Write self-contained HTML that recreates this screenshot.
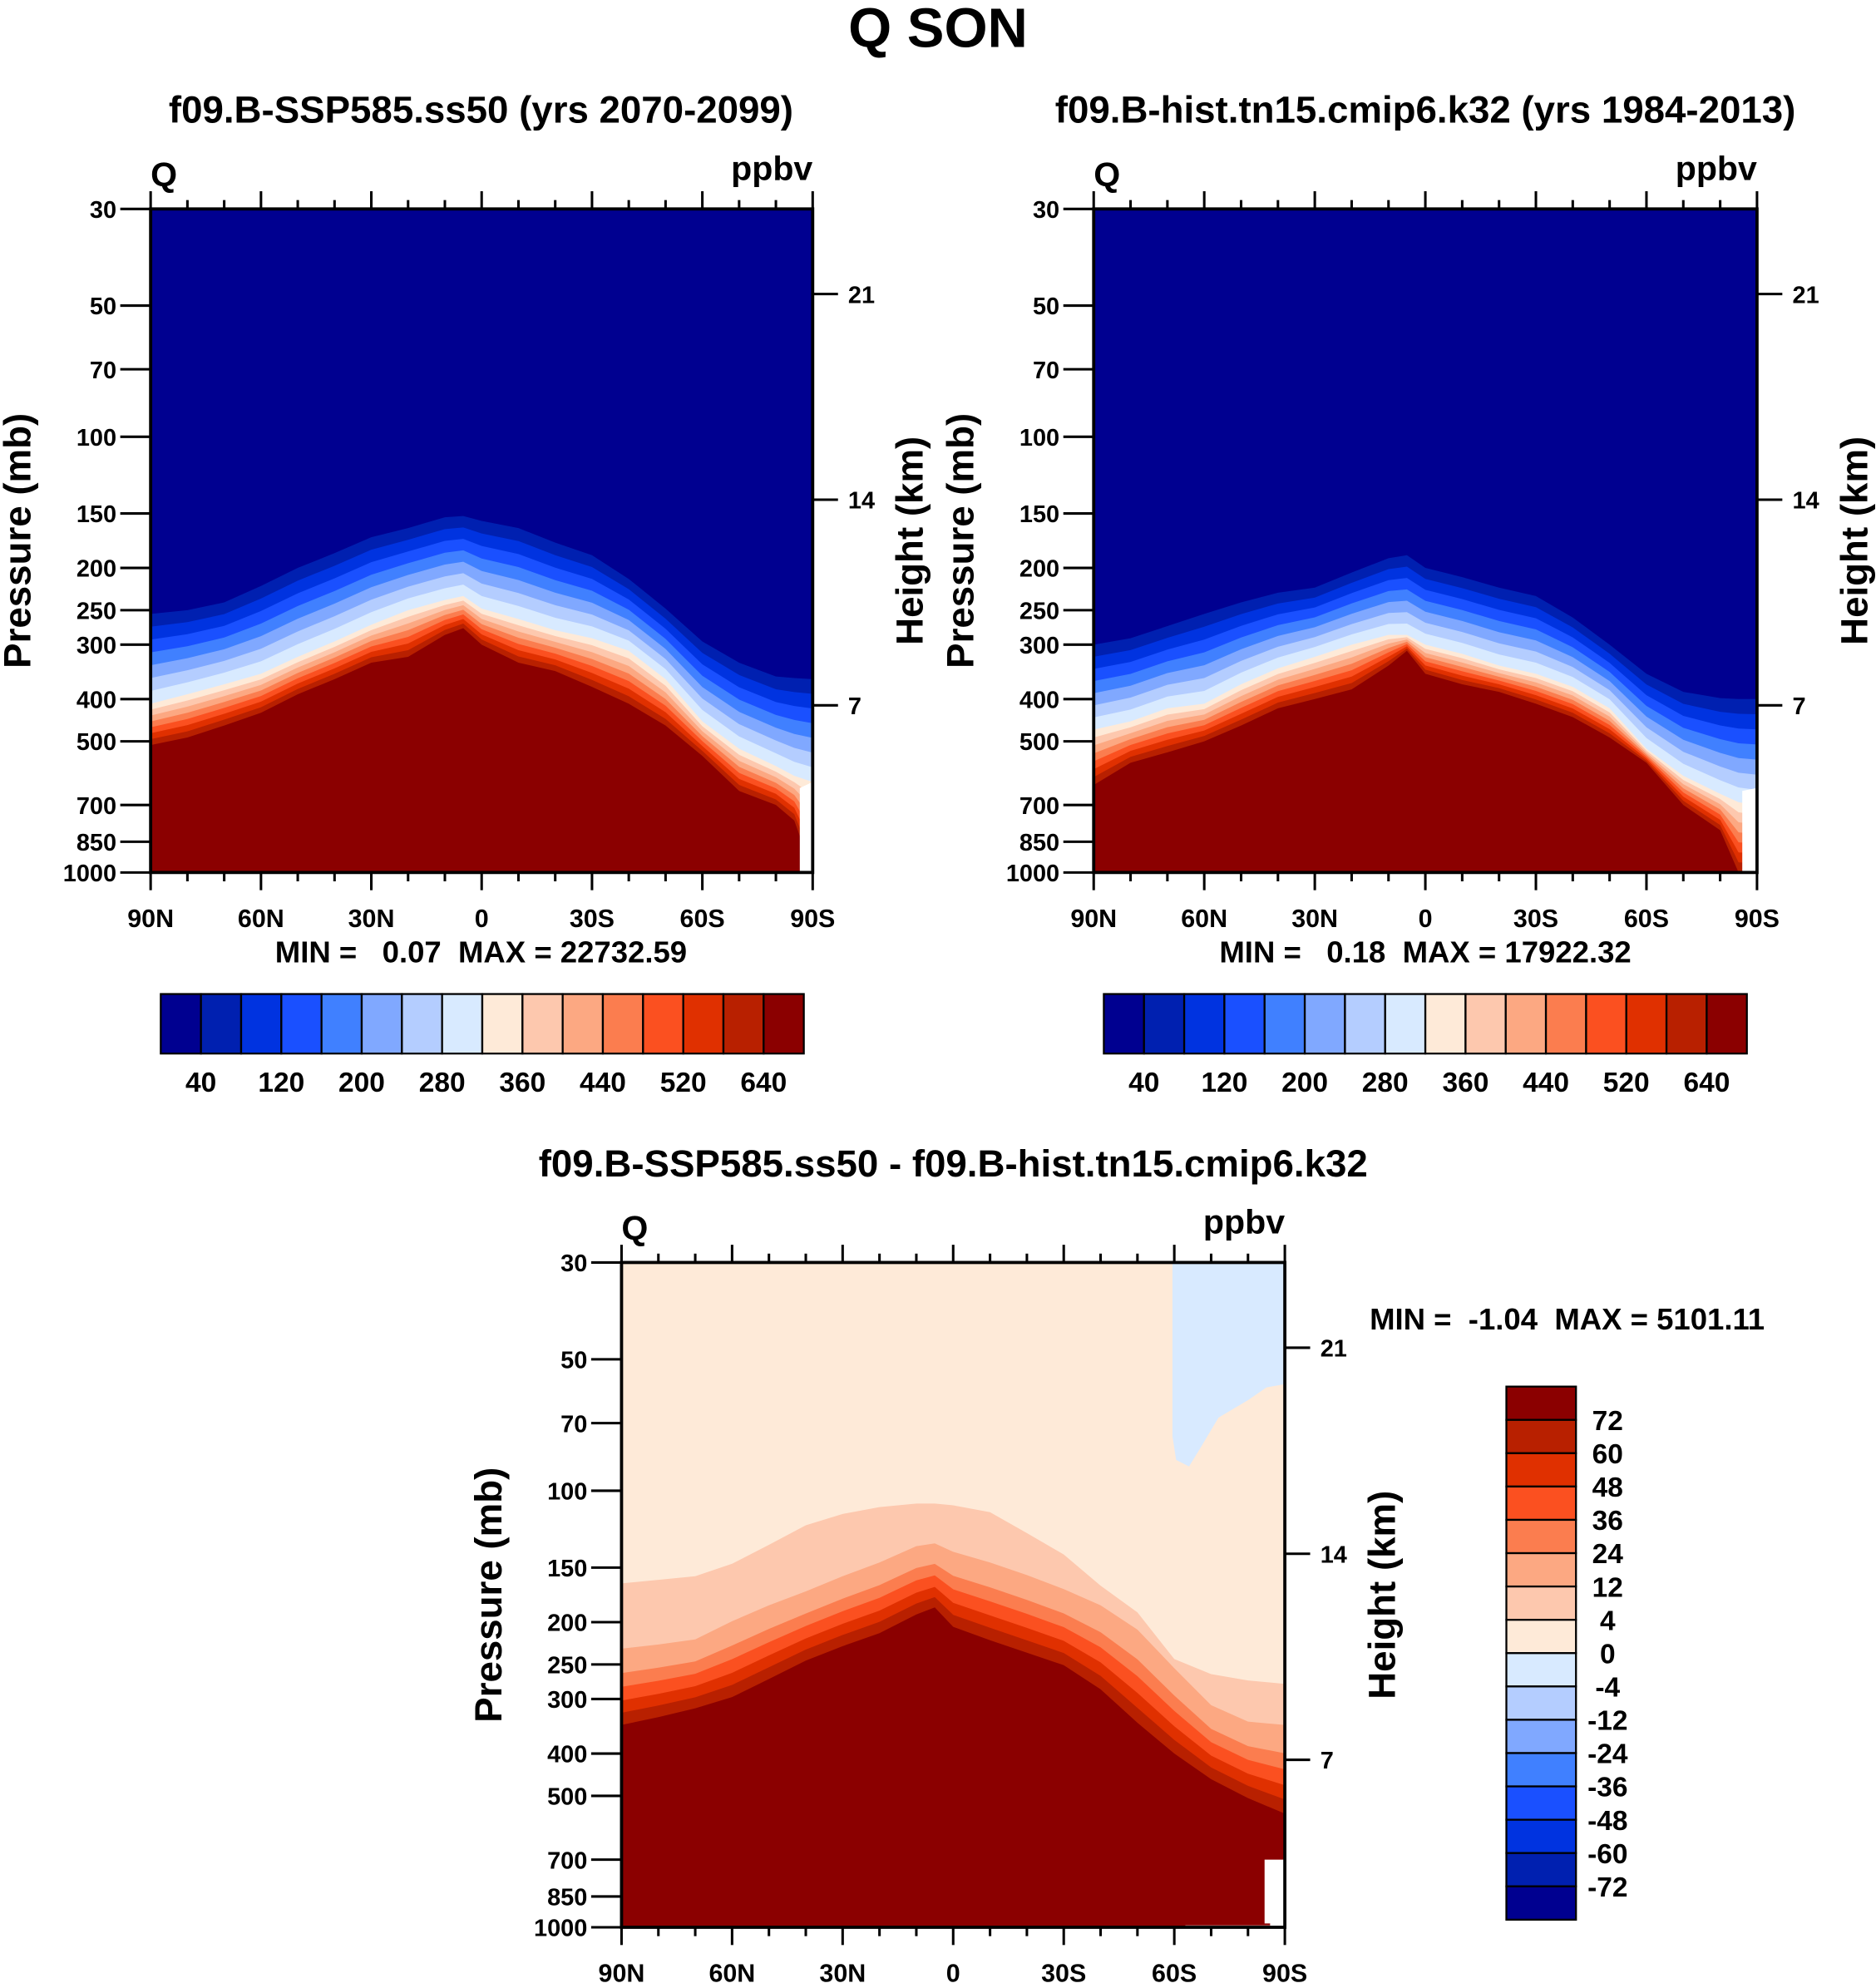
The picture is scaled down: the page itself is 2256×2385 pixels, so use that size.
<!DOCTYPE html>
<html><head><meta charset="utf-8"><style>
html,body{margin:0;padding:0;background:#fff;}
svg{display:block;font-family:"Liberation Sans",Arial,sans-serif;font-weight:bold;}
text{white-space:pre;}
</style></head><body>
<svg id="fig" xmlns="http://www.w3.org/2000/svg" width="2256" height="2385" viewBox="0 0 1482 1566" preserveAspectRatio="none">
<text x="741" y="37" font-size="44" text-anchor="middle">Q SON</text>
</svg>
<script>
// ---------- data ----------
const colors = ["#000090","#0020b0","#0033e0","#1a50ff","#4080ff","#80a8ff","#b4cdff","#d8eaff","#feead8","#fdc8ae","#fca882","#fb7d4f","#fb5020","#e03000","#b82000","#8b0000"];
const lats = [90,80,70,60,50,40,30,20,10,5,0,-10,-20,-30,-40,-50,-60,-70,-80,-85,-90];
const p1Blue  = [255,250,240,220,200,185,170,162,153,152,156,162,175,187,212,248,295,330,355,358,360];
const p1White = [410,390,370,350,320,295,270,250,237,232,248,262,278,290,310,360,450,520,570,600,620];
const p1Core  = [510,490,460,430,390,360,330,320,285,275,300,330,345,375,410,460,540,650,700,760,1000];
const p2Blue  = [300,290,272,255,240,228,222,205,190,187,200,210,222,232,260,300,350,385,398,400,400];
const p2White = [470,450,420,410,370,340,320,300,285,285,300,315,335,350,375,420,520,600,660,690,700];
const p2Core  = [630,560,530,500,460,420,400,380,335,310,350,370,385,410,440,490,560,700,800,1000,1000];
const lats3 = [90,80,70,60,50,40,30,20,10,5,0,-10,-20,-30,-40,-50,-60,-70,-80,-90];
const p3b4   = [163,160,157,147,133,120,113,109,107,107,108,112,125,140,165,190,243,263,272,277];
const p3b12  = [230,225,219,199,183,170,157,146,134,132,138,146,156,168,183,208,255,310,338,344];
const p3Core = [344,330,315,297,270,245,227,212,192,185,205,220,235,251,285,340,400,458,506,549];
const negLat = [-59.5,-59.5,-60.5,-64,-67,-72,-80,-85,-90,-90];
const negP   = [30,75,85,88,80,68,62,58,57,30];
const pTicks = [30,50,70,100,150,200,250,300,400,500,700,850,1000];
const kmTicks = [7,14,21];
const latTicks = [90,60,30,0,-30,-60,-90];
const latLabels = ["90N","60N","30N","0","30S","60S","90S"];
const cbLabels1 = ["40","120","200","280","360","440","520","640"];
const cbLabels3 = ["72","60","48","36","24","12","4","0","-4","-12","-24","-36","-48","-60","-72"];

const NS="http://www.w3.org/2000/svg";
const svg=document.getElementById('fig');
function mk(tag,attrs,parent){const e=document.createElementNS(NS,tag);for(const k in attrs)e.setAttribute(k,attrs[k]);(parent||svg).appendChild(e);return e;}
function txt(s,x,y,size,anchor,name,parent,rot){
  const t=mk('text',{x:x,y:y,'font-size':size,'text-anchor':anchor||'middle'},parent);
  if(rot)t.setAttribute('transform','rotate(-90 '+x+' '+y+')');
  t.textContent=s;
  
  
  return t;
}

function panel(id,x0,y0,w,h,latArr,bands,extras){
  const g=mk('g',{});
  
  
  const xs=lat=>x0+(90-lat)/180*w;
  const yp=p=>y0+Math.log(p/30)/Math.log(1000/30)*h;
  const cp=mk('clipPath',{id:id+'clip'},g);
  mk('rect',{x:x0,y:y0,width:w,height:h},cp);
  const pg=mk('g',{'clip-path':'url(#'+id+'clip)'},g);
  const bg=mk('rect',{x:x0,y:y0,width:w,height:h,fill:bands.base},pg);
  
  
  bands.list.forEach((b,i)=>{
    let pts=latArr.map((la,j)=>xs(la)+','+b.y(j,yp)).join(' ');
    pts+=' '+xs(latArr[latArr.length-1])+','+(y0+h+2)+' '+xs(latArr[0])+','+(y0+h+2);
    const poly=mk('polygon',{points:pts,fill:b.color},pg);
    
    
  });
  if(extras)extras(pg,xs,yp);
  const fr=mk('rect',{x:x0,y:y0,width:w,height:h,fill:'none',stroke:'#000','stroke-width':2.5},g);
  
  
  for(let la=90;la>=-90;la-=10){
    const maj=la%30===0, L=maj?14:7;
    mk('line',{x1:xs(la),x2:xs(la),y1:y0+h,y2:y0+h+L,stroke:'#000','stroke-width':2},g);
    mk('line',{x1:xs(la),x2:xs(la),y1:y0,y2:y0-L,stroke:'#000','stroke-width':2},g);
  }
  latTicks.forEach((la,i)=>txt(latLabels[i],xs(la),y0+h+43,20,'middle','x-tick-label',g));
  pTicks.forEach(p=>{
    mk('line',{x1:x0-24,x2:x0,y1:yp(p),y2:yp(p),stroke:'#000','stroke-width':2},g);
    txt(String(p),x0-27,yp(p)+7,19,'end','y-tick-label',g);
  });
  kmTicks.forEach(k=>{
    const y=y0+h*(557-165)/524-(k-7)*h*23.2/524;
    mk('line',{x1:x0+w,x2:x0+w+20,y1:y,y2:y,stroke:'#000','stroke-width':2},g);
    txt(String(k),x0+w+28,y+7,19,'start','right-tick-label',g);
  });
  txt('Q',x0,y0-18,27,'start','variable-label',g);
  txt('ppbv',x0+w,y0-23,27,'end','units-label',g);
  txt('Pressure (mb)',x0-95,y0+h/2,30,'middle','y-axis-title',g,true);
  txt('Height (km)',x0+w+87,y0+h/2,30,'middle','right-axis-title',g,true);
  return {xs,yp};
}

function keyBands(blue,white,core){
  const list=[];
  for(let k=1;k<=15;k++){
    let f;
    if(k<=8) f=(j,yp)=>{const a=yp(blue[j]),b=yp(white[j]);return a+(b-a)*(k-1)/7;};
    else f=(j,yp)=>{const a=yp(white[j]),b=yp(core[j]);return a+(b-a)*(k-8)/7;};
    list.push({color:colors[k],y:f});
  }
  return {base:colors[0],list};
}

txt('f09.B-SSP585.ss50 (yrs 2070-2099)',380,97,30,'middle','panel1-title');
panel('p1',119,165,523,524,lats,keyBands(p1Blue,p1White,p1Core),(g,xs,yp)=>{
  const m=mk('polygon',{points:[xs(-86.5)+','+yp(640),xs(-90)+','+yp(620),xs(-90)+','+yp(1000),xs(-86.5)+','+yp(1000)].join(' '),fill:'#fff'},g);
  
  
});
txt('MIN =   0.07  MAX = 22732.59',380,760,24,'middle','panel1-minmax');

txt('f09.B-hist.tn15.cmip6.k32 (yrs 1984-2013)',1126,97,30,'middle','panel2-title');
panel('p2',864,165,524,524,lats,keyBands(p2Blue,p2White,p2Core),(g,xs,yp)=>{
  const m=mk('polygon',{points:[xs(-86)+','+yp(650),xs(-90)+','+yp(640),xs(-90)+','+yp(1000),xs(-86)+','+yp(1000)].join(' '),fill:'#fff'},g);
  
  
});
txt('MIN =   0.18  MAX = 17922.32',1126,760,24,'middle','panel2-minmax');

function hbar(x0,y0,w,h,name){
  const g=mk('g',{});
  
  
  const bw=w/16;
  colors.forEach((c,i)=>{
    const r=mk('rect',{x:x0+i*bw,y:y0,width:bw,height:h,fill:c,stroke:'#000','stroke-width':1.5},g);
    
    
  });
  cbLabels1.forEach((s,i)=>txt(s,x0+(2*i+1)*bw,y0+h+30,22,'middle','colorbar-label',g));
}
hbar(127,785,508,47,'colorbar-1');
hbar(872,785,508,47,'colorbar-2');

txt('f09.B-SSP585.ss50 - f09.B-hist.tn15.cmip6.k32',753,929,30,'middle','panel3-title');
const diffBands={base:colors[8],list:[
  {color:colors[9],y:(j,yp)=>yp(p3b4[j])},
  {color:colors[10],y:(j,yp)=>yp(p3b12[j])},
  {color:colors[11],y:(j,yp)=>{const a=yp(p3b12[j]),b=yp(p3Core[j]);return a+(b-a)*0.32;}},
  {color:colors[12],y:(j,yp)=>{const a=yp(p3b12[j]),b=yp(p3Core[j]);return a+(b-a)*0.5;}},
  {color:colors[13],y:(j,yp)=>{const a=yp(p3b12[j]),b=yp(p3Core[j]);return a+(b-a)*0.68;}},
  {color:colors[14],y:(j,yp)=>{const a=yp(p3b12[j]),b=yp(p3Core[j]);return a+(b-a)*0.84;}},
  {color:colors[15],y:(j,yp)=>yp(p3Core[j])}
]};
panel('p3',491,997,524,525,lats3,diffBands,(g,xs,yp)=>{
  const neg=mk('polygon',{points:negLat.map((la,i)=>xs(la)+','+yp(negP[i])).join(' '),fill:colors[7]},g);
  
  
  const m=mk('polygon',{points:[[-84.5,700],[-90,700],[-90,1000],[-63,1000],[-63,990],[-86,990],[-86,980],[-84.5,980]].map(a=>xs(a[0])+','+yp(a[1])).join(' '),fill:'#fff'},g);
  
  
});
txt('MIN =  -1.04  MAX = 5101.11',1082,1050,24,'start','panel3-minmax');

(function(){
  const g=mk('g',{});
  
  
  const x0=1190,y0=1095,w=55,h=421,bh=h/16;
  for(let i=0;i<16;i++){
    const r=mk('rect',{x:x0,y:y0+i*bh,width:w,height:bh,fill:colors[15-i],stroke:'#000','stroke-width':1.5},g);
    
    
  }
  cbLabels3.forEach((s,i)=>txt(s,1270,y0+(i+1)*bh+8,22,'middle','colorbar-label',g));
})();
</script>
</body></html>
